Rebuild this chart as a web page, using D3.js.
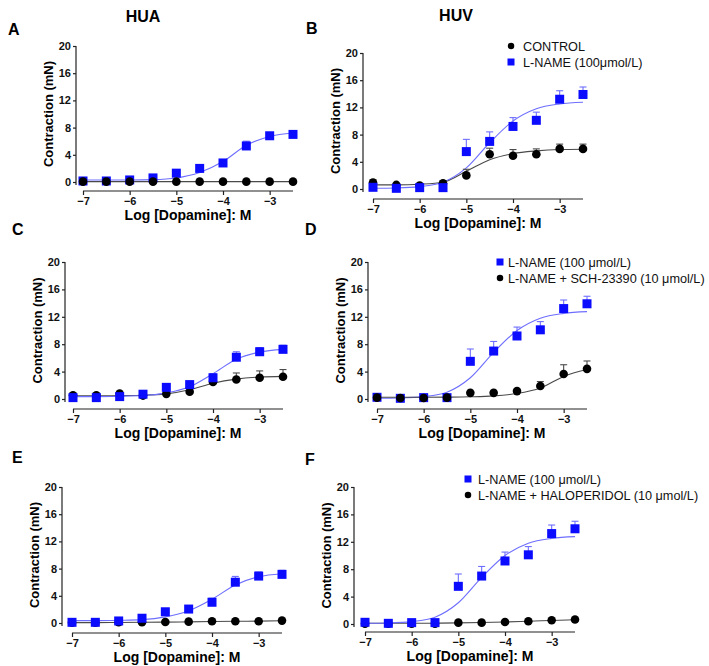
<!DOCTYPE html>
<html><head><meta charset="utf-8">
<script src="https://cdn.jsdelivr.net/npm/d3@7"></script>
<style>
body{margin:0;background:#fff}
svg{display:block}
text{font-family:"Liberation Sans",Arial,Helvetica,sans-serif}
</style>
</head><body>
<svg id="chart" width="709" height="666"></svg>
<script>
// ---------- DATA ----------
const doses = [-7, -6.5, -6, -5.5, -5, -4.5, -4, -3.5, -3, -2.5];
const xTickValues = [-7, -6, -5, -4, -3];
const yTickValues = [0, 4, 8, 12, 16, 20];
const xTitle = "Log [Dopamine]: M";
const yTitle = "Contraction (mN)";
const columnTitles = ["HUA", "HUV"];
const panelLetters = ["A", "B", "C", "D", "E", "F"];

// HUA
const huaLnameMean = [0.15, 0.15, 0.3, 0.6, 1.3, 2.0, 2.8, 5.3, 6.8, 7.0];
const huaLnameErr  = [0.1, 0.1, 0.15, 0.2, 0.3, 0.3, 0.45, 0.7, 0.45, 0.5];
const huaLnameFit  = [0.3, 0.3, 0.3, 0.35, 0.6, 1.4, 3.0, 5.4, 6.7, 7.2];
const huaControlMean = [0.05, 0.05, 0.05, 0.05, 0.05, 0.05, 0.05, 0.05, 0.05, 0.05];
const huaControlErr  = [0, 0, 0, 0, 0, 0, 0, 0, 0, 0];
const huaControlFit  = [0.05, 0.05, 0.05, 0.05, 0.05, 0.05, 0.05, 0.05, 0.05, 0.05];

const cLnameMean = [0.2, 0.2, 0.35, 0.7, 1.7, 2.1, 3.1, 6.1, 6.9, 7.25];
const cLnameErr  = [0.1, 0.1, 0.15, 0.2, 0.4, 0.5, 0.6, 0.8, 0.6, 0.6];
const cLnameFit  = [0.35, 0.35, 0.4, 0.5, 0.9, 1.8, 3.7, 5.8, 6.85, 7.25];
const cSchMean = [0.55, 0.55, 0.8, 0.5, 0.75, 1.05, 2.5, 2.85, 3.1, 3.25];
const cSchErr  = [0.1, 0.1, 0.15, 0.15, 0.2, 0.25, 0.3, 0.95, 1.0, 1.05];
const cSchFit  = [0.45, 0.45, 0.5, 0.55, 0.75, 1.35, 2.3, 2.9, 3.2, 3.3];

const eLnameMean = [0.1, 0.1, 0.3, 0.7, 1.65, 2.05, 3.05, 6.0, 6.9, 7.15];
const eLnameErr  = [0.1, 0.1, 0.15, 0.2, 0.4, 0.45, 0.6, 0.85, 0.6, 0.6];
const eLnameFit  = [0.35, 0.35, 0.4, 0.5, 0.9, 1.8, 3.5, 5.6, 6.8, 7.25];
const eHaloMean = [0.05, 0.05, 0.1, 0.1, 0.15, 0.2, 0.25, 0.25, 0.25, 0.35];
const eHaloErr  = [0, 0, 0, 0, 0.05, 0.05, 0.05, 0.05, 0.05, 0.05];
const eHaloFit  = [0.05, 0.06, 0.08, 0.1, 0.13, 0.17, 0.21, 0.25, 0.28, 0.32];

// HUV
const huvLnameMean = [0.25, 0.1, 0.2, 0.2, 5.5, 7.0, 9.2, 10.1, 13.2, 13.9];
const huvLnameErr  = [0.2, 0.1, 0.15, 0.15, 1.8, 1.4, 1.3, 1.2, 1.25, 1.1];
const huvLnameFit  = [0.1, 0.15, 0.35, 1.0, 3.1, 6.8, 10.0, 11.8, 12.5, 12.75];
const huvControlMean = [0.95, 0.6, 0.5, 0.85, 2.0, 5.1, 4.9, 5.1, 5.9, 5.9];
const huvControlErr  = [0.4, 0.2, 0.2, 0.3, 0.9, 0.9, 0.9, 0.8, 0.7, 0.7];
const huvControlFit  = [0.6, 0.6, 0.7, 1.0, 2.6, 4.3, 5.2, 5.6, 5.8, 5.85];

const dSchMean = [0.2, 0.15, 0.15, 0.2, 0.9, 0.9, 1.15, 1.9, 3.65, 4.4];
const dSchErr  = [0.1, 0.1, 0.1, 0.1, 0.2, 0.25, 0.2, 0.65, 1.35, 1.15];
const dSchFit  = [0.25, 0.25, 0.25, 0.27, 0.32, 0.45, 0.8, 1.6, 3.3, 4.3];

const fHaloMean = [0.05, 0.05, 0.05, 0.05, 0.2, 0.2, 0.3, 0.4, 0.55, 0.65];
const fHaloErr  = [0, 0, 0, 0, 0.05, 0.05, 0.05, 0.05, 0.05, 0.05];
const fHaloFit  = [0.1, 0.1, 0.1, 0.12, 0.16, 0.22, 0.3, 0.4, 0.52, 0.63];

const legendB = ["CONTROL", "L-NAME (100\u03bcmol/L)"];
const legendD = ["L-NAME (100 \u03bcmol/L)", "L-NAME + SCH-23390 (10 \u03bcmol/L)"];
const legendF = ["L-NAME (100 \u03bcmol/L)", "L-NAME + HALOPERIDOL (10 \u03bcmol/L)"];

// ---------- STYLE / LAYOUT ----------
const BLUE = "#0b0bff", BLUE_LINE = "#6e6eff", BLACK = "#000", GREY_LINE = "#4a4a4a";

const panels = [
  {letter:"A", lx:8, ly:35, xl:83, xr:293, y0:182, y20:46, axisY:191, axisX:76,
   series:[
     {shape:"square", mean:huaLnameMean, err:huaLnameErr, fit:huaLnameFit},
     {shape:"circle", mean:huaControlMean, err:huaControlErr, fit:huaControlFit}]},
  {letter:"B", lx:306, ly:34, xl:373, xr:583, y0:189, y20:53, axisY:199, axisX:363,
   series:[
     {shape:"circle", mean:huvControlMean, err:huvControlErr, fit:huvControlFit},
     {shape:"square", mean:huvLnameMean, err:huvLnameErr, fit:huvLnameFit}],
   legend:{labels:legendB, shapes:["circle","square"], mx:511, my:46, tx:523}},
  {letter:"C", lx:12, ly:235, xl:73, xr:283, y0:399, y20:262, axisY:409, axisX:65,
   series:[
     {shape:"circle", mean:cSchMean, err:cSchErr, fit:cSchFit},
     {shape:"square", mean:cLnameMean, err:cLnameErr, fit:cLnameFit}]},
  {letter:"D", lx:305, ly:235, xl:377, xr:587, y0:399, y20:262, axisY:409, axisX:368,
   series:[
     {shape:"square", mean:huvLnameMean, err:huvLnameErr, fit:huvLnameFit},
     {shape:"circle", mean:dSchMean, err:dSchErr, fit:dSchFit}],
   legend:{labels:legendD, shapes:["square","circle"], mx:500, my:262, tx:508}},
  {letter:"E", lx:12, ly:463, xl:72, xr:282, y0:623, y20:487, axisY:633, axisX:62,
   series:[
     {shape:"circle", mean:eHaloMean, err:eHaloErr, fit:eHaloFit},
     {shape:"square", mean:eLnameMean, err:eLnameErr, fit:eLnameFit}]},
  {letter:"F", lx:305, ly:465, xl:365, xr:575, y0:624, y20:487, axisY:632, axisX:354,
   series:[
     {shape:"circle", mean:fHaloMean, err:fHaloErr, fit:fHaloFit},
     {shape:"square", mean:huvLnameMean, err:huvLnameErr, fit:huvLnameFit}],
   legend:{labels:legendF, shapes:["square","circle"], mx:468, my:479, tx:478}}
];

const svg = d3.select("#chart");

// column titles
svg.append("text").attr("x", 143).attr("y", 22).attr("text-anchor","middle")
  .attr("font-size", 16).attr("font-weight","bold").text(columnTitles[0]);
svg.append("text").attr("x", 456).attr("y", 21).attr("text-anchor","middle")
  .attr("font-size", 16).attr("font-weight","bold").text(columnTitles[1]);

function drawMarker(g, shape, cx, cy, size, color) {
  if (shape === "circle") {
    g.append("circle").attr("cx", cx).attr("cy", cy).attr("r", size/2).attr("fill", color);
  } else {
    g.append("rect").attr("x", cx - size/2).attr("y", cy - size/2)
      .attr("width", size).attr("height", size).attr("fill", color);
  }
}

panels.forEach(p => {
  const g = svg.append("g");
  const x = d3.scaleLinear().domain([-7, -2.5]).range([p.xl, p.xr]);
  const y = d3.scaleLinear().domain([0, 20]).range([p.y0, p.y20]);

  // letter
  g.append("text").attr("x", p.lx).attr("y", p.ly).attr("font-size", 16)
    .attr("font-weight","bold").text(p.letter);

  // y axis
  const yAxis = d3.axisLeft(y).tickValues(yTickValues).tickSize(3).tickPadding(2)
    .tickFormat(d3.format("d"));
  const ya = g.append("g").attr("transform", `translate(${p.axisX},0)`).call(yAxis);
  ya.select(".domain").attr("d", `M0,${p.y20}V${p.y0 + 3}`).attr("stroke","#222").attr("stroke-width",1.2);
  ya.selectAll(".tick line").attr("stroke","#222").attr("stroke-width",1.2);
  ya.selectAll(".tick text").attr("font-size", 11).attr("font-weight","bold")
    .attr("font-family",'"Liberation Sans",Arial,sans-serif').attr("fill","#111");

  // x axis
  const xAxis = d3.axisBottom(x).tickValues(xTickValues).tickSize(4).tickPadding(2)
    .tickFormat(d => "\u2212" + Math.abs(d));
  const xa = g.append("g").attr("transform", `translate(0,${p.axisY})`).call(xAxis);
  xa.select(".domain").attr("d", `M${p.xl},0H${p.xr}`).attr("stroke","#222").attr("stroke-width",1.2);
  xa.selectAll(".tick line").attr("stroke","#222").attr("stroke-width",1.2);
  xa.selectAll(".tick text").attr("font-size", 11).attr("font-weight","bold")
    .attr("font-family",'"Liberation Sans",Arial,sans-serif').attr("fill","#111");

  // titles
  g.append("text").attr("x", (p.xl + p.xr)/2).attr("y", p.axisY + 29)
    .attr("text-anchor","middle").attr("font-size", 14).attr("font-weight","bold").text(xTitle);
  g.append("text").attr("transform", `translate(${p.axisX - 23},${(p.y0 + p.y20)/2}) rotate(-90)`)
    .attr("text-anchor","middle").attr("font-size", 13).attr("font-weight","bold").text(yTitle);

  // fitted curves
  p.series.forEach(s => {
    const pts = doses.map((d, i) => [d, s.fit[i]]);
    g.append("path").datum(pts)
      .attr("d", d3.line().x(d => x(d[0])).y(d => y(d[1])).curve(d3.curveMonotoneX))
      .attr("fill","none").attr("stroke", s.shape === "square" ? BLUE_LINE : GREY_LINE)
      .attr("stroke-width", 1.1);
  });

  // error bars + markers
  p.series.forEach(s => {
    const col = s.shape === "square" ? BLUE : BLACK;
    const ecol = s.shape === "square" ? BLUE_LINE : GREY_LINE;
    doses.forEach((d, i) => {
      const e = s.err[i];
      if (e > 0.25) {
        const cx = x(d), top = y(s.mean[i] + e);
        g.append("line").attr("x1", cx).attr("x2", cx).attr("y1", y(s.mean[i])).attr("y2", top)
          .attr("stroke", ecol).attr("stroke-width", 1.1);
        g.append("line").attr("x1", cx - 3.5).attr("x2", cx + 3.5).attr("y1", top).attr("y2", top)
          .attr("stroke", ecol).attr("stroke-width", 1.1);
      }
    });
    doses.forEach((d, i) => {
      drawMarker(g, s.shape, x(d), y(s.mean[i]), s.shape === "square" ? 9 : 8.6, col);
    });
  });

  // legend
  if (p.legend) {
    p.legend.labels.forEach((lab, i) => {
      const cy = p.legend.my + i * 16;
      const sh = p.legend.shapes[i];
      drawMarker(g, sh, p.legend.mx, cy, sh === "square" ? 7 : 6.5, sh === "square" ? BLUE : BLACK);
      g.append("text").attr("x", p.legend.tx).attr("y", cy + 4.5)
        .attr("font-size", 12.7).attr("fill","#111").text(lab);
    });
  }
});
</script>
</body></html>
